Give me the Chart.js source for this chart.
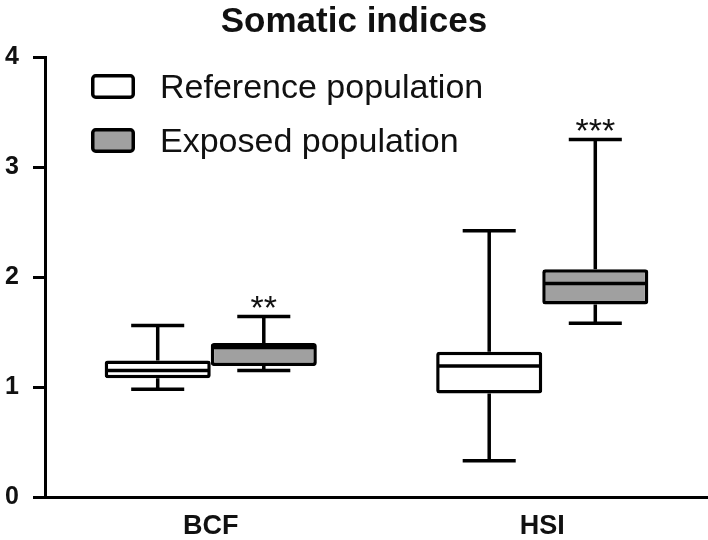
<!DOCTYPE html>
<html>
<head>
<meta charset="utf-8">
<title>Somatic indices</title>
<script src="https://cdn.jsdelivr.net/npm/chart.js@4/dist/chart.umd.min.js"></script>
<style>
  html,body{margin:0;padding:0;background:#fff}
  #wrap{width:708px;height:540px;position:relative}
</style>
</head>
<body>
<div id="wrap"><canvas id="c"></canvas></div>
<script>
/* Somatic indices — box plots, reference vs exposed population */

var categories = ['BCF', 'HSI'];
var seriesNames = ['Reference population', 'Exposed population'];

// reference population (min, q1, median, q3, max)
var refMin = [0.98, 0.33];
var refQ1  = [1.08, 0.94];
var refMed = [1.15, 1.19];
var refQ3  = [1.24, 1.32];
var refMax = [1.56, 2.42];

// exposed population
var expMin = [1.15, 1.58];
var expQ1  = [1.19, 1.75];
var expMed = [1.36, 1.94];
var expQ3  = [1.40, 2.07];
var expMax = [1.64, 3.25];

var expSig = ['**', '***'];
var yTicks = [0, 1, 2, 3, 4];

var FONT = "'Liberation Sans', Arial, Helvetica, sans-serif";
var C_REF = '#ffffff', C_EXP = '#a0a0a0', C_LINE = '#000000';
var LW = 3.5;

function pairs(lo, hi){ return lo.map(function(v, i){ return [v, hi[i]]; }); }

var stats = [
  { min:refMin, med:refMed, q3:refQ3, q1:refQ1, max:refMax, sig:null },
  { min:expMin, med:expMed, q3:expQ3, q1:expQ1, max:expMax, sig:expSig }
];

/* ---------- whiskers (behind boxes), medians + stars (on top) ---------- */
var boxPlugin = {
  id: 'boxExtras',
  beforeDatasetsDraw: function(chart){
    var ctx = chart.ctx, y = chart.scales.y;
    ctx.save();
    ctx.strokeStyle = C_LINE; ctx.lineWidth = LW; ctx.lineCap = 'butt';
    chart.data.datasets.forEach(function(ds, di){
      var s = stats[di];
      chart.getDatasetMeta(di).data.forEach(function(bar, i){
        var x = bar.x, hw = bar.width / 4;
        var yMax = y.getPixelForValue(s.max[i]), yMin = y.getPixelForValue(s.min[i]);
        ctx.beginPath();
        ctx.moveTo(x, y.getPixelForValue(s.q3[i])); ctx.lineTo(x, yMax);
        ctx.moveTo(x, y.getPixelForValue(s.q1[i])); ctx.lineTo(x, yMin);
        ctx.moveTo(x - hw, yMax); ctx.lineTo(x + hw, yMax);
        ctx.moveTo(x - hw, yMin); ctx.lineTo(x + hw, yMin);
        ctx.stroke();
      });
    });
    ctx.restore();
  },
  afterDatasetsDraw: function(chart){
    var ctx = chart.ctx, y = chart.scales.y;
    ctx.save();
    ctx.strokeStyle = C_LINE; ctx.lineWidth = LW;
    chart.data.datasets.forEach(function(ds, di){
      var s = stats[di];
      chart.getDatasetMeta(di).data.forEach(function(bar, i){
        var hw = bar.width / 2 - 1;
        var ym = y.getPixelForValue(s.med[i]);
        ctx.beginPath();
        ctx.moveTo(bar.x - hw, ym); ctx.lineTo(bar.x + hw, ym);
        ctx.stroke();
        if(s.sig && s.sig[i]){
          ctx.fillStyle = '#111';
          ctx.font = '34px ' + FONT;
          ctx.textAlign = 'center';
          ctx.textBaseline = 'alphabetic';
          ctx.fillText(s.sig[i], bar.x, y.getPixelForValue(s.max[i]) + 2);
        }
      });
    });
    ctx.restore();
  }
};

/* ---------- legend, stacked, inside the plot ---------- */
var legendPlugin = {
  id: 'boxLegend',
  afterDraw: function(chart){
    var ctx = chart.ctx, a = chart.chartArea;
    ctx.save();
    chart.data.datasets.forEach(function(ds, i){
      var bx = a.left + 46, by = a.top + 17 + i * 54;
      ctx.beginPath();
      ctx.roundRect(bx + LW/2, by + LW/2, 44 - LW, 25 - LW, 3);
      ctx.fillStyle = ds.backgroundColor; ctx.fill();
      ctx.lineWidth = LW; ctx.strokeStyle = C_LINE; ctx.stroke();
      ctx.fillStyle = '#111';
      ctx.font = '34px ' + FONT;
      ctx.textAlign = 'left'; ctx.textBaseline = 'alphabetic';
      ctx.fillText(ds.label, a.left + 115, by + 24);
    });
    ctx.restore();
  }
};

function boxSet(label, s, color){
  return {
    label: label,
    data: pairs(s.q1, s.q3),
    backgroundColor: color,
    borderColor: C_LINE,
    borderWidth: LW,
    borderSkipped: false,
    borderRadius: 3,
    categoryPercentage: 0.64,
    barPercentage: 1.0
  };
}

new Chart(document.getElementById('c'), {
  type: 'bar',
  data: {
    labels: categories,
    datasets: [
      boxSet(seriesNames[0], stats[0], C_REF),
      boxSet(seriesNames[1], stats[1], C_EXP)
    ]
  },
  options: {
    responsive: true,
    maintainAspectRatio: false,
    animation: false,
    layout: { padding: { left: 0, right: 0, top: 0, bottom: 0 } },
    plugins: {
      legend: { display: false },
      tooltip: { enabled: false },
      title: {
        display: true,
        text: 'Somatic indices',
        color: '#111',
        font: { family: FONT, size: 35, weight: 'bold', lineHeight: 1.2 },
        padding: { top: 1, bottom: 14 }
      }
    },
    scales: {
      x: {
        grid: { display: false },
        border: { display: true, width: 3, color: C_LINE },
        ticks: { color: '#111', padding: 5, font: { family: FONT, size: 27, weight: 'bold' } },
        afterFit: function(sc){ sc.height = 43; }
      },
      y: {
        min: 0, max: 4,
        afterBuildTicks: function(sc){ sc.ticks = yTicks.map(function(v){ return { value: v }; }); },
        grid: { drawOnChartArea: false, drawTicks: true, tickLength: 12, tickWidth: 3, tickColor: C_LINE },
        border: { display: true, width: 3, color: C_LINE },
        ticks: { color: '#111', padding: 14, font: { family: FONT, size: 25, weight: 'bold' } },
        afterFit: function(sc){ sc.width = 45; }
      }
    }
  },
  plugins: [boxPlugin, legendPlugin]
});
</script>
</body>
</html>
